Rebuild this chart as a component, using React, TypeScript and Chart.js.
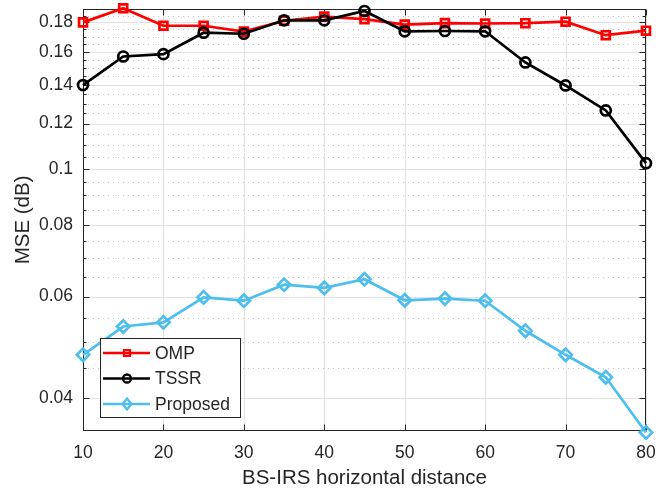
import React, { useEffect, useRef } from 'react';
import { Chart, registerables } from 'chart.js';

Chart.register(...registerables);

const distances = [10, 15, 20, 25, 30, 35, 40, 45, 50, 55, 60, 65, 70, 75, 80];
const ompMSE = [0.18, 0.1905, 0.1776, 0.1776, 0.1735, 0.1812, 0.1842, 0.1824, 0.1784, 0.1795, 0.1792, 0.1794, 0.1805, 0.171, 0.1741];
const tssrMSE = [0.14, 0.157, 0.1585, 0.1727, 0.172, 0.1815, 0.1815, 0.1884, 0.1737, 0.1739, 0.1737, 0.1533, 0.1398, 0.1265, 0.1024];
const proposedMSE = [0.0475, 0.0532, 0.0541, 0.0598, 0.059, 0.0629, 0.0621, 0.0643, 0.0591, 0.0595, 0.059, 0.0523, 0.0475, 0.0434, 0.0348];
const seriesNames = ['OMP', 'TSSR', 'Proposed'];
const xTicks = [10, 20, 30, 40, 50, 60, 70, 80];
const yMajorTicks = [0.04, 0.06, 0.08, 0.1, 0.12, 0.14, 0.16, 0.18];
const yTickLabels = ['0.04', '0.06', '0.08', '0.1', '0.12', '0.14', '0.16', '0.18'];
const yMinorTicks = [0.045, 0.05, 0.055, 0.065, 0.07, 0.075, 0.085, 0.09, 0.095, 0.105, 0.11, 0.115, 0.125, 0.13, 0.135, 0.145, 0.15, 0.155, 0.165, 0.17, 0.175, 0.185];

const FONT = '"Liberation Sans", Arial, Helvetica, sans-serif';
const TEXT = '#262626';
const AXIS = '#262626';
const COLORS = ['#ff0000', '#000000', '#4dbeee'];
const STYLES = ['rect', 'circle', 'rectRot'];
const RADII = [5.6, 5, 6.2];

function drawMarker(ctx: CanvasRenderingContext2D, style: string, x: number, y: number, r: number) {
  ctx.beginPath();
  if (style === 'rect') {
    const s = Math.SQRT1_2 * r;
    ctx.rect(x - s, y - s, 2 * s, 2 * s);
  } else if (style === 'circle') {
    ctx.arc(x, y, r, 0, Math.PI * 2);
  } else {
    ctx.moveTo(x, y - r);
    ctx.lineTo(x + r * 0.8, y);
    ctx.lineTo(x, y + r);
    ctx.lineTo(x - r * 0.8, y);
    ctx.closePath();
  }
  ctx.stroke();
}

const framePlugin = {
  id: 'matlabFrame',
  beforeDatasetsDraw(chart: any) {
    const { ctx, chartArea } = chart;
    const { left, right, top, bottom } = chartArea;
    const x = chart.scales.x;
    const y = chart.scales.y;
    ctx.save();
    ctx.strokeStyle = '#c6c6c6';
    ctx.lineWidth = 1;
    ctx.setLineDash([1, 4]);
    ctx.beginPath();
    for (const v of yMinorTicks) {
      const py = Math.round(y.getPixelForValue(v)) + 0.5;
      ctx.moveTo(left, py);
      ctx.lineTo(right, py);
    }
    ctx.stroke();
    ctx.setLineDash([]);
    ctx.strokeStyle = '#e2e2e2';
    ctx.beginPath();
    for (const v of xTicks) {
      const px = Math.round(x.getPixelForValue(v)) + 0.5;
      ctx.moveTo(px, top);
      ctx.lineTo(px, bottom);
    }
    for (const v of yMajorTicks) {
      const py = Math.round(y.getPixelForValue(v)) + 0.5;
      ctx.moveTo(left, py);
      ctx.lineTo(right, py);
    }
    ctx.stroke();
    ctx.strokeStyle = AXIS;
    ctx.lineWidth = 1;
    const l = Math.round(left) + 0.5, r = Math.round(right) - 0.5, t = Math.round(top) + 0.5, b = Math.round(bottom) - 0.5;
    ctx.strokeRect(l, t, r - l, b - t);
    ctx.beginPath();
    for (const v of xTicks) {
      const px = Math.round(x.getPixelForValue(v)) + 0.5;
      ctx.moveTo(px, b); ctx.lineTo(px, b - 6);
      ctx.moveTo(px, t); ctx.lineTo(px, t + 6);
    }
    for (const v of yMajorTicks) {
      const py = Math.round(y.getPixelForValue(v)) + 0.5;
      ctx.moveTo(l, py); ctx.lineTo(l + 6, py);
      ctx.moveTo(r, py); ctx.lineTo(r - 6, py);
    }
    for (const v of yMinorTicks) {
      const py = Math.round(y.getPixelForValue(v)) + 0.5;
      ctx.moveTo(l, py); ctx.lineTo(l + 3, py);
      ctx.moveTo(r, py); ctx.lineTo(r - 3, py);
    }
    ctx.stroke();
    ctx.restore();
  },
  afterDatasetsDraw(chart: any) {
    const { ctx } = chart;
    ctx.save();
    const bx = 100.5, by = 338.5, bw = 140, bh = 79;
    ctx.fillStyle = '#ffffff';
    ctx.fillRect(bx, by, bw, bh);
    ctx.strokeStyle = AXIS;
    ctx.lineWidth = 1;
    ctx.strokeRect(bx, by, bw, bh);
    const rows = [353, 378.5, 404];
    chart.data.datasets.forEach((ds: any, i: number) => {
      const yy = rows[i];
      ctx.strokeStyle = COLORS[i];
      ctx.lineWidth = 2.7;
      ctx.beginPath();
      ctx.moveTo(103, yy);
      ctx.lineTo(150, yy);
      ctx.stroke();
      ctx.lineWidth = 2.3;
      drawMarker(ctx, STYLES[i], 127, yy, i === 0 ? 4.2 : i === 1 ? 4 : 5.5);
      ctx.fillStyle = TEXT;
      ctx.font = `17.5px ${FONT}`;
      ctx.textBaseline = 'middle';
      ctx.textAlign = 'left';
      ctx.fillText(ds.label, 155, yy + 1);
    });
    ctx.restore();
  },
};

function makeDataset(i: number, values: number[]) {
  return {
    label: seriesNames[i],
    data: distances.map((d, k) => ({ x: d, y: values[k] })),
    borderColor: COLORS[i],
    backgroundColor: 'transparent',
    borderWidth: 2.7,
    pointStyle: STYLES[i],
    pointRadius: RADII[i],
    pointBorderWidth: 2.7,
    pointBackgroundColor: 'transparent',
    pointBorderColor: COLORS[i],
    tension: 0,
    clip: false,
    order: 3 - i,
  };
}

export default function App() {
  const ref = useRef<HTMLCanvasElement | null>(null);
  useEffect(() => {
    if (!ref.current) return;
    const chart = new Chart(ref.current, {
      type: 'line',
      data: {
        datasets: [makeDataset(0, ompMSE), makeDataset(1, tssrMSE), makeDataset(2, proposedMSE)] as any,
      },
      options: {
        animation: false,
        responsive: false,
        events: [],
        layout: { padding: { left: 0, right: 10, top: 8, bottom: 0 } },
        plugins: { legend: { display: false }, tooltip: { enabled: false } },
        scales: {
          x: {
            type: 'linear',
            min: 10,
            max: 80,
            afterBuildTicks: (s: any) => {
              s.ticks = xTicks.map((v) => ({ value: v }));
            },
            afterFit: (s: any) => {
              s.height = 57;
              s.paddingLeft = 0;
              s.paddingRight = 0;
            },
            ticks: {
              font: { family: FONT, size: 17.5 },
              color: TEXT,
              padding: 12,
              maxRotation: 0,
              autoSkip: false,
              callback: (v: any) => String(v),
            },
            grid: { display: false, drawTicks: false },
            border: { display: false },
            title: {
              display: true,
              text: 'BS-IRS horizontal distance',
              font: { family: FONT, size: 20.5, lineHeight: 0.9 },
              color: TEXT,
              padding: { top: 0, bottom: 0 },
            },
          },
          y: {
            type: 'logarithmic',
            min: 0.035,
            max: 0.19,
            afterBuildTicks: (s: any) => {
              s.ticks = yMajorTicks.map((v) => ({ value: v }));
            },
            afterFit: (s: any) => {
              s.width = 83;
              s.paddingTop = 0;
              s.paddingBottom = 0;
            },
            ticks: {
              font: { family: FONT, size: 17.5 },
              color: TEXT,
              padding: 10,
              autoSkip: false,
              callback: (v: any) => {
                const i = yMajorTicks.indexOf(v);
                return i >= 0 ? yTickLabels[i] : '';
              },
            },
            grid: { display: false, drawTicks: false },
            border: { display: false },
            title: {
              display: true,
              text: 'MSE (dB)',
              font: { family: FONT, size: 20.5, lineHeight: 1 },
              color: TEXT,
              padding: { top: 13, bottom: 0 },
            },
          },
        },
      } as any,
      plugins: [framePlugin],
    });
    return () => chart.destroy();
  }, []);
  return (
    <div style={{ position: 'fixed', left: 0, top: 0, width: 656, height: 488, background: '#fff' }}>
      <canvas ref={ref} width={656} height={488} style={{ display: 'block', width: 656, height: 488 }} />
    </div>
  );
}
